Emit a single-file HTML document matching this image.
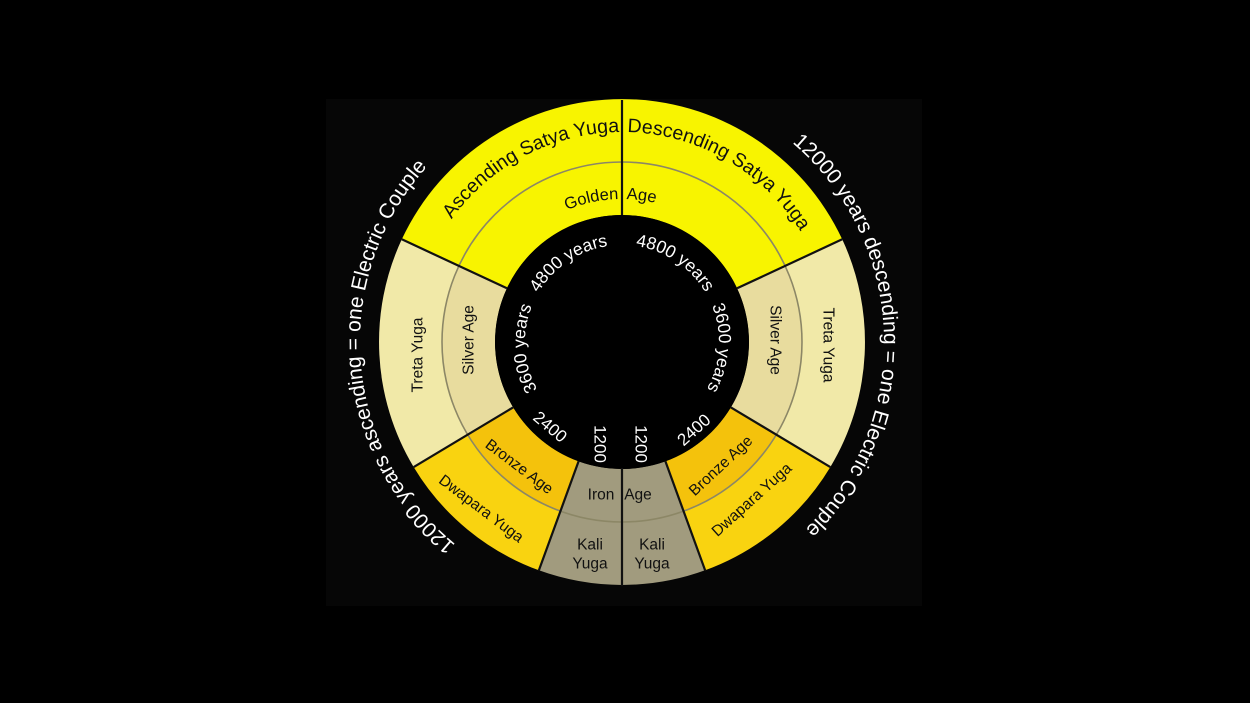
<!DOCTYPE html>
<html><head><meta charset="utf-8"><style>
html,body{margin:0;padding:0;background:#000;width:1250px;height:703px;overflow:hidden}
svg{display:block}
text{font-family:"Liberation Sans",Arial,sans-serif;}
</style></head><body>
<svg width="1250" height="703" viewBox="0 0 1250 703" xmlns="http://www.w3.org/2000/svg">
<rect x="0" y="0" width="1250" height="703" fill="#000"/>
<rect x="326" y="99" width="596" height="507" fill="#060606"/>
<defs>
<path id="satya" d="M412,342 A210,210 0 0 1 832,342"/>
<path id="golden" d="M479,342 A143,143 0 0 1 765,342"/>
<path id="outerL" d="M622,604 A262,262 0 0 1 622,80"/>
<path id="outerR" d="M622,80 A262,262 0 0 1 622,604"/>
<path id="inner" d="M622,245 A97,97 0 1 1 622,439 A97,97 0 1 1 622,245"/>
</defs>
<!-- Satya -->
<path d="M401.8,239.3 A243,243 0 0 1 842.2,239.3 L737.1,288.3 A127,127 0 0 0 506.9,288.3 Z" fill="#f8f400"/>
<!-- Treta right/left -->
<path d="M842.2,239.3 A243,243 0 0 1 830.3,467.1 L730.9,407.4 A127,127 0 0 0 737.1,288.3 Z" fill="#f1e9a8"/>
<path d="M401.8,239.3 A243,243 0 0 0 413.7,467.1 L513.1,407.4 A127,127 0 0 1 506.9,288.3 Z" fill="#f1e9a8"/>
<path d="M785.1,265.9 A180,180 0 0 1 776.3,434.7 L730.9,407.4 A127,127 0 0 0 737.1,288.3 Z" fill="#e8dc9e"/>
<path d="M458.9,265.9 A180,180 0 0 0 467.7,434.7 L513.1,407.4 A127,127 0 0 1 506.9,288.3 Z" fill="#e8dc9e"/>
<!-- Dwapara -->
<path d="M830.3,467.1 A243,243 0 0 1 705.1,570.3 L665.4,461.3 A127,127 0 0 0 730.9,407.4 Z" fill="#f9d310"/>
<path d="M413.7,467.1 A243,243 0 0 0 538.9,570.3 L578.6,461.3 A127,127 0 0 1 513.1,407.4 Z" fill="#f9d310"/>
<path d="M776.3,434.7 A180,180 0 0 1 683.6,511.1 L665.4,461.3 A127,127 0 0 0 730.9,407.4 Z" fill="#f4c20c"/>
<path d="M467.7,434.7 A180,180 0 0 0 560.4,511.1 L578.6,461.3 A127,127 0 0 1 513.1,407.4 Z" fill="#f4c20c"/>
<!-- Kali -->
<path d="M705.1,570.3 A243,243 0 0 1 538.9,570.3 L578.6,461.3 A127,127 0 0 0 665.4,461.3 Z" fill="#a19b7e"/>
<!-- middle circle -->
<circle cx="622" cy="342" r="180" fill="none" stroke="#8c8766" stroke-width="1.6"/>
<!-- hole -->
<circle cx="622" cy="342" r="127" fill="#000"/>
<!-- boundaries -->
<g stroke="#111" stroke-width="2.2">
<line x1="401.8" y1="239.3" x2="506.9" y2="288.3"/>
<line x1="842.2" y1="239.3" x2="737.1" y2="288.3"/>
<line x1="413.7" y1="467.1" x2="513.1" y2="407.4"/>
<line x1="830.3" y1="467.1" x2="730.9" y2="407.4"/>
<line x1="538.9" y1="570.3" x2="578.6" y2="461.3"/>
<line x1="705.1" y1="570.3" x2="665.4" y2="461.3"/>
<line x1="622" y1="100" x2="622" y2="215"/>
<line x1="622" y1="468" x2="622" y2="586"/>
</g>
<!-- curved labels -->
<text font-size="19.5" fill="#111"><textPath href="#satya" startOffset="327" text-anchor="end">Ascending Satya Yuga</textPath></text>
<text font-size="19.5" fill="#111"><textPath href="#satya" startOffset="335">Descending Satya Yuga</textPath></text>
<text font-size="16.5" fill="#111"><textPath href="#golden" startOffset="221" text-anchor="end">Golden</textPath></text>
<text font-size="16.5" fill="#111"><textPath href="#golden" startOffset="229">Age</textPath></text>
<text font-size="21" fill="#fff"><textPath href="#outerL" startOffset="180">12000 years ascending = one Electric Couple</textPath></text>
<text font-size="21" fill="#fff"><textPath href="#outerR" startOffset="185">12000 years descending = one Electric Couple</textPath></text>
<g font-size="17.5" fill="#fff" text-anchor="middle">
<text><textPath href="#inner" startOffset="57">4800 years</textPath></text>
<text><textPath href="#inner" startOffset="158">3600 years</textPath></text>
<text><textPath href="#inner" startOffset="450">3600 years</textPath></text>
<text><textPath href="#inner" startOffset="551">4800 years</textPath></text>
</g>
<g font-size="17" fill="#fff" text-anchor="middle" dominant-baseline="central">
<text transform="translate(600,444) rotate(90)">1200</text>
<text transform="translate(641,444) rotate(90)">1200</text>
<text transform="translate(550,427) rotate(40)">2400</text>
<text transform="translate(694,430) rotate(-42)">2400</text>
</g>
<g font-size="15.5" fill="#111" text-anchor="middle" dominant-baseline="central">
<text transform="translate(418,355) rotate(-90)">Treta Yuga</text>
<text transform="translate(828,345) rotate(90)">Treta Yuga</text>
<text transform="translate(469,340) rotate(-90)">Silver Age</text>
<text transform="translate(775,340) rotate(90)">Silver Age</text>
<text transform="translate(519,467) rotate(37)">Bronze Age</text>
<text transform="translate(721,466) rotate(-43)">Bronze Age</text>
<text transform="translate(481,509) rotate(37)">Dwapara Yuga</text>
<text transform="translate(752,500) rotate(-42)">Dwapara Yuga</text>
<text x="601" y="495">Iron</text>
<text x="638" y="495">Age</text>
<text x="590" y="545">Kali</text>
<text x="590" y="564">Yuga</text>
<text x="652" y="545">Kali</text>
<text x="652" y="564">Yuga</text>
</g>
</svg>
</body></html>
